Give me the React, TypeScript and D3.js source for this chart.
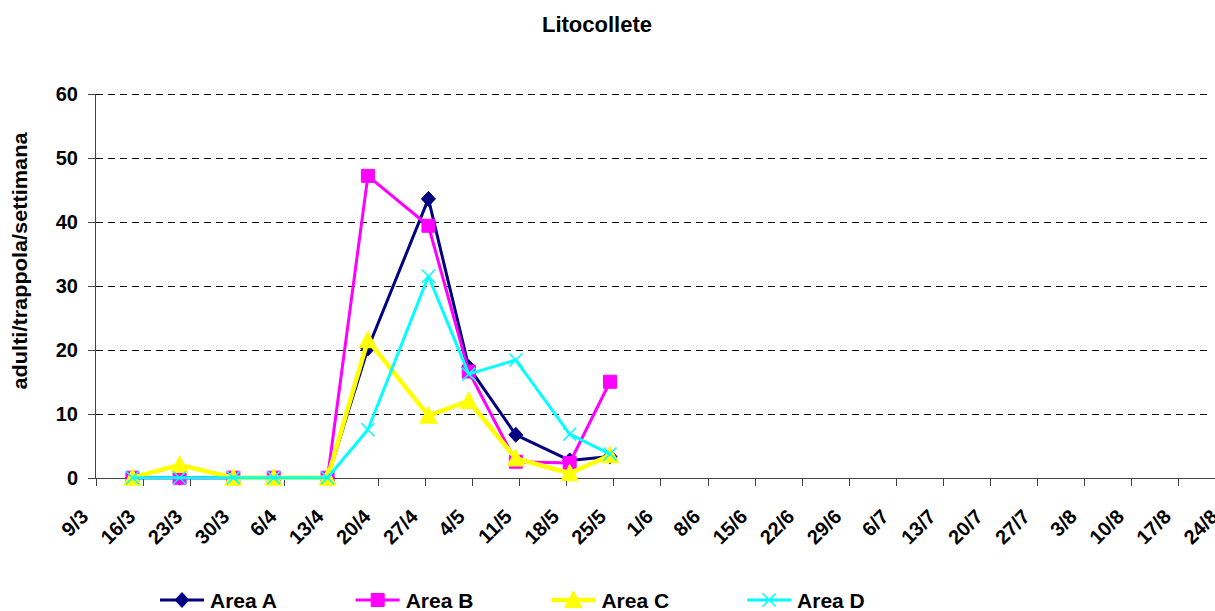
import React from "react";
import * as d3 from "d3";

// ---- data ----
const sampleDates = ["14/3", "21/3", "29/3", "4/4", "12/4", "18/4", "27/4", "3/5", "10/5", "18/5", "24/5"];
const areaA = [0, 0, 0, 0, 0, 20.2, 43.6, 17.3, 6.7, 2.7, 3.3];
const areaB = [0, 0, 0, 0, 0, 47.2, 39.4, 16.6, 2.5, 2.3, 15];
const areaC = [0, 2, 0, 0, 0, 21.5, 9.7, 12, 3, 0.7, 3.5];
const areaD = [0, 0, 0, 0, 0, 7.5, 31.5, 16.2, 18.4, 6.8, 3.7];
const xTickLabels = [
  "9/3", "16/3", "23/3", "30/3", "6/4", "13/4", "20/4", "27/4", "4/5", "11/5", "18/5", "25/5",
  "1/6", "8/6", "15/6", "22/6", "29/6", "6/7", "13/7", "20/7", "27/7", "3/8", "10/8", "17/8", "24/8",
];
const yTicks = [0, 10, 20, 30, 40, 50, 60];
const seriesNames = ["Area A", "Area B", "Area C", "Area D"];

const YEAR = 2008;
const parseDM = (s: string) => {
  const [d, m] = s.split("/").map(Number);
  return new Date(Date.UTC(YEAR, m - 1, d));
};

const W = 1215;
const H = 611;
const FONT = "'Liberation Sans', Arial, Helvetica, sans-serif";

const series = [
  { name: seriesNames[0], values: areaA, color: "#000080", width: 3, marker: "diamond" },
  { name: seriesNames[1], values: areaB, color: "#FF00FF", width: 3, marker: "square" },
  { name: seriesNames[2], values: areaC, color: "#FFFF00", width: 4.5, marker: "triangle" },
  { name: seriesNames[3], values: areaD, color: "#00FFFF", width: 3, marker: "x" },
];

function markerPath(kind: string): string {
  switch (kind) {
    case "diamond":
      return "M0,-7.5L7,0L0,7.5L-7,0Z";
    case "square":
      return "M-6.5,-6.5H6.5V6.5H-6.5Z";
    case "triangle":
      return "M0,-9L8.5,7.5L-8.5,7.5Z";
    default:
      return "M-6.5,-6.5L6.5,6.5M6.5,-6.5L-6.5,6.5";
  }
}

function Marker({ kind, color }: { kind: string; color: string }) {
  if (kind === "x") {
    return <path d={markerPath(kind)} stroke={color} strokeWidth={1.6} fill="none" />;
  }
  return <path d={markerPath(kind)} fill={color} stroke={color} strokeWidth={1} />;
}

export default function App() {
  const start = parseDM(xTickLabels[0]);
  const pxPerDay = 47.08 / 7;
  const x0 = 95.5;
  const endHours = Math.round(((W - x0) / pxPerDay) * 24);
  const x = d3
    .scaleUtc()
    .domain([start, d3.utcHour.offset(start, endHours)])
    .range([x0, x0 + (endHours / 24) * pxPerDay]);
  const y = d3.scaleLinear().domain([0, 60]).range([477.7, 94]);
  const crisp = (v: number) => Math.round(v) + 0.5;

  // points sit at the centre of their day slot
  const px = (s: string) => x(d3.utcHour.offset(parseDM(s), 12));

  const line = d3
    .line<number>()
    .x((_, i) => px(sampleDates[i]))
    .y((v) => y(v));

  const tickDates = xTickLabels.map(parseDM);
  const plotRight = 1211;
  const axisY = crisp(y(0));

  return (
    <div style={{ position: "absolute", left: 0, top: 0 }}>
      <svg width={W} height={H} style={{ display: "block", background: "#fff" }} fontFamily={FONT}>
        <rect x={0} y={0} width={W} height={H} fill="#fff" />
        {/* title */}
        <text x={597} y={32} textAnchor="middle" fontSize={22} fontWeight="bold" fill="#000">
          Litocollete
        </text>

        {/* gridlines */}
        {yTicks
          .filter((t) => t > 0)
          .map((t) => (
            <line
              key={"g" + t}
              x1={x0}
              x2={plotRight}
              y1={crisp(y(t))}
              y2={crisp(y(t))}
              stroke="#000"
              strokeWidth={1}
              strokeDasharray="7,5"
              shapeRendering="crispEdges"
            />
          ))}

        {/* y axis */}
        <line x1={x0} x2={x0} y1={crisp(y(60))} y2={axisY} stroke="#444" strokeWidth={1} shapeRendering="crispEdges" />
        {yTicks.map((t) => (
          <g key={"yt" + t}>
            <line x1={x0 - 8} x2={x0} y1={crisp(y(t))} y2={crisp(y(t))} stroke="#444" strokeWidth={1} shapeRendering="crispEdges" />
            <text x={78} y={y(t)} dy="0.36em" textAnchor="end" fontSize={20} fontWeight="bold" fill="#000">
              {t}
            </text>
          </g>
        ))}
        <text
          transform={`translate(27,261) rotate(-90)`}
          textAnchor="middle"
          fontSize={19.5}
          fontWeight="bold"
          fill="#000"
          textLength={257}
          lengthAdjust="spacingAndGlyphs"
        >
          adulti/trappola/settimana
        </text>

        {/* x axis */}
        <line x1={x0} x2={W} y1={axisY} y2={axisY} stroke="#444" strokeWidth={1} shapeRendering="crispEdges" />
        {tickDates.map((d, i) => {
          const tx = x(d);
          return (
            <g key={"xt" + i}>
              <line x1={crisp(tx)} x2={crisp(tx)} y1={axisY} y2={axisY + 7} stroke="#444" strokeWidth={1} shapeRendering="crispEdges" />
              <text
                transform={`translate(${tx - 6},518) rotate(-45)`}
                textAnchor="end"
                fontSize={20}
                fontWeight="bold"
                fill="#000"
              >
                {xTickLabels[i]}
              </text>
            </g>
          );
        })}

        {/* series */}
        {series.map((s) => (
          <g key={s.name}>
            <path d={line(s.values) || ""} fill="none" stroke={s.color} strokeWidth={s.width} strokeLinejoin="round" />
            {s.values.map((v, i) => (
              <g key={i} transform={`translate(${px(sampleDates[i])},${y(v)})`}>
                <Marker kind={s.marker} color={s.color} />
              </g>
            ))}
          </g>
        ))}

        {/* legend */}
        {series.map((s, i) => {
          const lx = 160 + i * 195.7;
          return (
            <g key={"lg" + s.name}>
              <line x1={lx} x2={lx + 44} y1={600} y2={600} stroke={s.color} strokeWidth={s.width} />
              <g transform={`translate(${lx + 22},600)`}>
                <Marker kind={s.marker} color={s.color} />
              </g>
              <text x={lx + 50} y={607.7} fontSize={21} fontWeight="bold" fill="#000">
                {s.name}
              </text>
            </g>
          );
        })}
      </svg>
    </div>
  );
}
